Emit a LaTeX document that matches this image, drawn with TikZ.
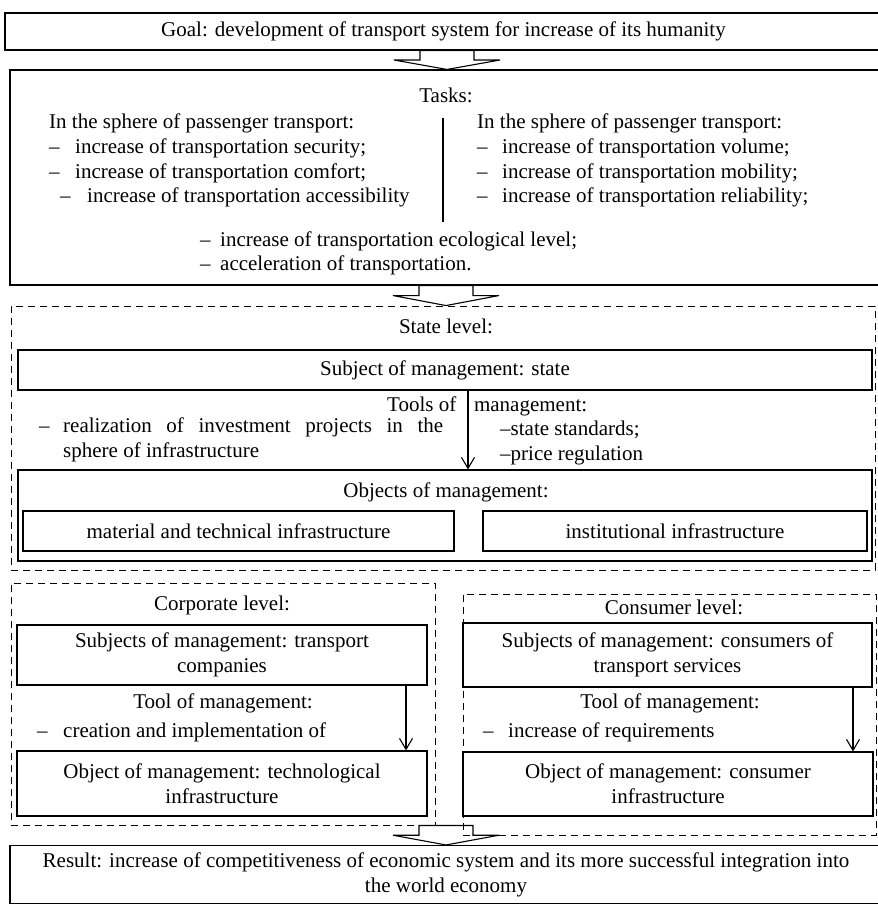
\documentclass[tikz,border=0pt]{standalone}
\usepackage{fontspec}
\setmainfont{Liberation Serif}
\usetikzlibrary{arrows.meta,calc}

% hollow block arrow from the bottom of one node to the top of the next
% #1 upper node, #2 lower node, #3 centre x (pt)
\newcommand\blockarrow[3]{%
  \draw[blockarr] let \p1=(#1.south), \p2=(#2.north), \n1={(\y1+\y2)/2} in
    ({(#3-27)*1pt},\y1) -- ({(#3-27)*1pt},{\n1*1pt}) -- ({(#3-53)*1pt},{\n1*1pt})
    -- ({#3*1pt},\y2) -- ({(#3+53)*1pt},{\n1*1pt}) -- ({(#3+27)*1pt},{\n1*1pt})
    -- ({(#3+27)*1pt},\y1) -- cycle;}

\begin{document}
\begin{tikzpicture}[x=1pt,y=-1pt,
  font=\fontsize{21}{25}\selectfont,
  box/.style={draw, line width=1.1pt, inner sep=0pt, align=center},
  level/.style={draw, dash pattern=on 7pt off 5pt, line width=0.9pt, inner sep=0pt},
  lbl/.style={inner sep=0pt, text height=15pt, text depth=5pt},
  lft/.style={lbl, anchor=west},
  blockarr/.style={draw, line width=1.1pt, line join=miter},
  flow/.style={-{Straight Barb[length=11pt,width=13pt,line width=1.1pt]}, line width=1.1pt}]

\useasboundingbox (0,0) rectangle (878,906);

% ---------- goal ----------
\node[box, minimum width=877pt, minimum height=37pt] (goal) at (443.5,31.5)
  {Goal: development of transport system for increase of its humanity};

% ---------- tasks ----------
\node[box, minimum width=872pt, minimum height=215pt] (tasks) at (446,177.5) {};
\node[lbl] (tasktitle) at (446,97) {Tasks:};

\node[lft] (la) at (49,123) {In the sphere of passenger transport:};
\node[lft] (lb) at (49,148) {\makebox[26pt][l]{–}increase of transportation security;};
\node[lft] (lc) at (49,173) {\makebox[26pt][l]{–}increase of transportation comfort;};
\node[lft] (ld) at (60,197) {\makebox[27pt][l]{–}increase of transportation accessibility};

\coordinate (divtop) at (443,118);
\coordinate (divbot) at (443,222);
\draw[line width=1.1pt] (divtop) -- (divbot);

\node[lft] (ra) at (477,123) {In the sphere of passenger transport:};
\node[lft] (rb) at (477,148) {\makebox[25pt][l]{–}increase of transportation volume;};
\node[lft] (rc) at (477,173) {\makebox[25pt][l]{–}increase of transportation mobility;};
\node[lft] (rd) at (477,197) {\makebox[25pt][l]{–}increase of transportation reliability;};

\node[lft] (ca) at (200,241) {\makebox[20pt][l]{–}increase of transportation ecological level;};
\node[lft] (cb) at (200,265) {\makebox[20pt][l]{–}acceleration of transportation.};

% ---------- state level ----------
\node[level, minimum width=864pt, minimum height=264pt] (state) at (443,438) {};
\node[lbl] (statetitle) at (446,328) {State level:};
\node[box, minimum width=854pt, minimum height=40pt] (subj) at (445,370)
  {Subject of management: state};

\node[lft] (tools) at (387,406) {Tools of\hspace{12.5pt} management:};
\node[lft] (invdash) at (39,427) {–};
\node[anchor=north west, text width=380pt, align=justify, inner sep=0pt] (inv) at (63,417.5)
  {realization of investment projects in the\linebreak sphere of infrastructure};
\node[lft] (std) at (500,430) {–state standards;};
\node[lft] (price) at (500,455) {–price regulation};

\node[box, minimum width=854pt, minimum height=91pt] (objs) at (445,515.5) {};
\node[lbl] (objtitle) at (446,492) {Objects of management:};
\node[box, minimum width=431pt, minimum height=40pt] (mat) at (238.5,531)
  {material and technical infrastructure};
\node[box, minimum width=384pt, minimum height=40pt] (inst) at (675,531)
  {institutional infrastructure};

\coordinate (sx) at (468,0);
\draw[flow] (subj.south -| sx) -- (objs.north -| sx);

% ---------- corporate level ----------
\node[level, minimum width=424pt, minimum height=242pt] (corp) at (223,704) {};
\node[lbl] (corptitle) at (222,605) {Corporate level:};
\node[box, minimum width=410pt, minimum height=60pt] (csubj) at (222,655)
  {Subjects of management: transport\\companies};
\node[lbl] (ctool) at (223,703) {Tool of management:};
\node[lft] (ctoolitem) at (37,732) {\makebox[26pt][l]{–}creation and implementation of};
\node[box, minimum width=410pt, minimum height=65pt] (cobj) at (222,783.5)
  {Object of management: technological\\infrastructure};
\coordinate (cx) at (406,0);
\draw[flow] (csubj.south -| cx) -- (cobj.north -| cx);

% ---------- consumer level ----------
\node[level, minimum width=413pt, minimum height=241pt] (cons) at (669.5,714.5) {};
\node[lbl] (constitle) at (674,609) {Consumer level:};
\node[box, minimum width=409pt, minimum height=64pt] (ssubj) at (667.5,655)
  {Subjects of management: consumers of\\transport services};
\node[lbl] (stool) at (670,703) {Tool of management:};
\node[lft] (stoolitem) at (483,732) {\makebox[25pt][l]{–}increase of requirements};
\node[box, minimum width=410pt, minimum height=64pt] (sobj) at (668,784)
  {Object of management: consumer\\infrastructure};
\coordinate (kx) at (853,0);
\draw[flow] (ssubj.south -| kx) -- (sobj.north -| kx);

% ---------- result ----------
\node[box, minimum width=872pt, minimum height=58pt] (result) at (446,874.5)
  {Result: increase of competitiveness of economic system and its more successful integration into\\the world economy};

% ---------- block arrows ----------
\blockarrow{goal}{tasks}{447}
\blockarrow{tasks}{state}{446}
\blockarrow{corp}{result}{446}

\end{tikzpicture}
\end{document}
